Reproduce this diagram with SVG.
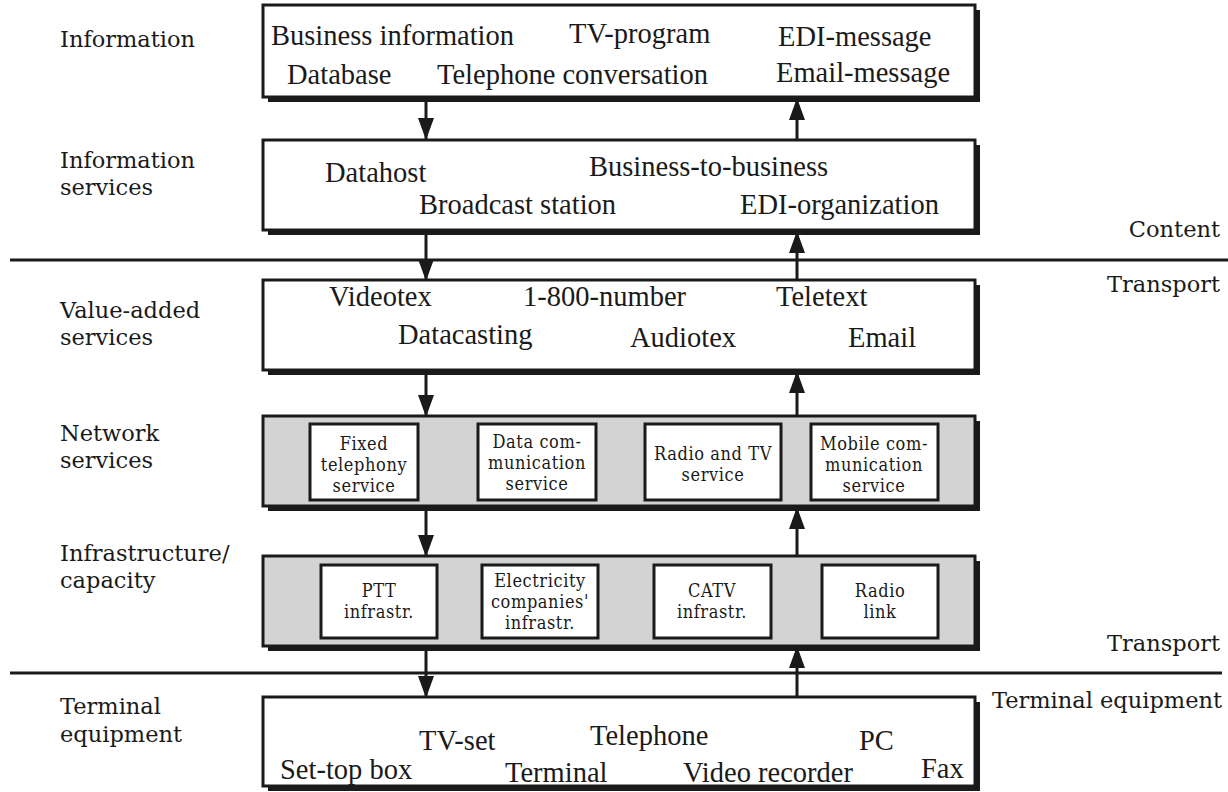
<svg xmlns="http://www.w3.org/2000/svg" width="1228" height="792" viewBox="0 0 1228 792">
  <defs>
    <marker id="head" viewBox="0 0 22 16" refX="21" refY="8" markerWidth="22" markerHeight="16" markerUnits="userSpaceOnUse" orient="auto">
      <path d="M0,0 L22,8 L0,16 z" fill="#1a1a1a"/>
    </marker>
  </defs>
  <style>
    .lbl { font-family: "DejaVu Serif", serif; font-size: 22.5px; fill: #1a1a1a; }
    .rlbl { font-family: "DejaVu Serif", serif; font-size: 22.5px; fill: #1a1a1a; text-anchor: end; }
    .item { font-family: "Liberation Serif", serif; font-size: 28.5px; fill: #1a1a1a; }
    .sub { font-family: "DejaVu Serif", serif; font-stretch: condensed; font-size: 18px; letter-spacing: 0.6px; fill: #1a1a1a; text-anchor: middle; }
    .shadow { fill: #1a1a1a; }
    .box { fill: #ffffff; stroke: #1a1a1a; stroke-width: 3; }
    .grey { fill: #d3d3d3; stroke: #1a1a1a; stroke-width: 3; }
    .inner { fill: #ffffff; stroke: #1a1a1a; stroke-width: 3; }
    .rule { stroke: #1a1a1a; stroke-width: 3; }
    .flow { stroke: #1a1a1a; stroke-width: 3; fill: none; }
  </style>

  <rect width="1228" height="792" fill="#ffffff"/>

  <!-- layer labels, left column -->
  <g id="layer-labels">
    <text class="lbl" x="60" y="47">Information</text>
    <text class="lbl" x="60" y="168">Information</text>
    <text class="lbl" x="60" y="195">services</text>
    <text class="lbl" x="60" y="318">Value-added</text>
    <text class="lbl" x="60" y="345">services</text>
    <text class="lbl" x="60" y="441">Network</text>
    <text class="lbl" x="60" y="468">services</text>
    <text class="lbl" x="60" y="561">Infrastructure/</text>
    <text class="lbl" x="60" y="588">capacity</text>
    <text class="lbl" x="60" y="714">Terminal</text>
    <text class="lbl" x="60" y="742">equipment</text>
  </g>

  <!-- divider lines and side labels -->
  <g id="dividers">
    <line class="rule" x1="10" y1="260" x2="1228" y2="260"/>
    <line class="rule" x1="10" y1="673" x2="1222" y2="673"/>
    <text class="rlbl" x="1220" y="237">Content</text>
    <text class="rlbl" x="1220" y="292">Transport</text>
    <text class="rlbl" x="1220" y="651">Transport</text>
    <text class="rlbl" x="1222" y="708">Terminal equipment</text>
  </g>

  <!-- connectors -->
  <g id="connectors">
    <line class="flow" x1="426" y1="99" x2="426" y2="139" marker-end="url(#head)"/>
    <line class="flow" x1="797" y1="139" x2="797" y2="99" marker-end="url(#head)"/>
    <line class="flow" x1="426" y1="232" x2="426" y2="280" marker-end="url(#head)"/>
    <line class="flow" x1="797" y1="280" x2="797" y2="232" marker-end="url(#head)"/>
    <line class="flow" x1="426" y1="372" x2="426" y2="416" marker-end="url(#head)"/>
    <line class="flow" x1="797" y1="416" x2="797" y2="372" marker-end="url(#head)"/>
    <line class="flow" x1="426" y1="508" x2="426" y2="556" marker-end="url(#head)"/>
    <line class="flow" x1="797" y1="556" x2="797" y2="508" marker-end="url(#head)"/>
    <line class="flow" x1="426" y1="647" x2="426" y2="697" marker-end="url(#head)"/>
    <line class="flow" x1="797" y1="697" x2="797" y2="647" marker-end="url(#head)"/>
  </g>

  <g id="information">
    <rect class="shadow" x="268" y="10" width="712" height="92"/>
    <rect class="box" x="263" y="5" width="712" height="92"/>
    <text class="item" x="271" y="45">Business information</text>
    <text class="item" x="569" y="43">TV-program</text>
    <text class="item" x="778" y="46">EDI-message</text>
    <text class="item" x="287" y="84">Database</text>
    <text class="item" x="437" y="84">Telephone conversation</text>
    <text class="item" x="776" y="82">Email-message</text>
  </g>

  <g id="information-services">
    <rect class="shadow" x="268" y="145" width="712" height="90"/>
    <rect class="box" x="263" y="140" width="712" height="90"/>
    <text class="item" x="325" y="182">Datahost</text>
    <text class="item" x="589" y="176">Business-to-business</text>
    <text class="item" x="419" y="214">Broadcast station</text>
    <text class="item" x="740" y="214">EDI-organization</text>
  </g>

  <g id="value-added-services">
    <rect class="shadow" x="268" y="285" width="712" height="90"/>
    <rect class="box" x="263" y="280" width="712" height="90"/>
    <text class="item" x="329" y="306">Videotex</text>
    <text class="item" x="523" y="306">1-800-number</text>
    <text class="item" x="776" y="306">Teletext</text>
    <text class="item" x="398" y="344">Datacasting</text>
    <text class="item" x="630" y="347">Audiotex</text>
    <text class="item" x="848" y="347">Email</text>
  </g>

  <g id="network-services">
    <rect class="shadow" x="268" y="421" width="712" height="90"/>
    <rect class="grey" x="263" y="416" width="712" height="90"/>
    <g id="fixed-telephony">
      <rect class="inner" x="310" y="424" width="108" height="76"/>
      <text class="sub" x="364" y="450">Fixed</text>
      <text class="sub" x="364" y="471">telephony</text>
      <text class="sub" x="364" y="492">service</text>
    </g>
    <g id="data-communication">
      <rect class="inner" x="478" y="424" width="118" height="76"/>
      <text class="sub" x="537" y="448">Data com-</text>
      <text class="sub" x="537" y="469">munication</text>
      <text class="sub" x="537" y="490">service</text>
    </g>
    <g id="radio-tv">
      <rect class="inner" x="645" y="424" width="136" height="76"/>
      <text class="sub" x="713" y="460">Radio and TV</text>
      <text class="sub" x="713" y="481">service</text>
    </g>
    <g id="mobile-communication">
      <rect class="inner" x="811" y="424" width="127" height="76"/>
      <text class="sub" x="874" y="450">Mobile com-</text>
      <text class="sub" x="874" y="471">munication</text>
      <text class="sub" x="874" y="492">service</text>
    </g>
  </g>

  <g id="infrastructure">
    <rect class="shadow" x="268" y="561" width="712" height="90"/>
    <rect class="grey" x="263" y="556" width="712" height="90"/>
    <g id="ptt">
      <rect class="inner" x="321" y="565" width="116" height="73"/>
      <text class="sub" x="379" y="597">PTT</text>
      <text class="sub" x="379" y="618">infrastr.</text>
    </g>
    <g id="electricity">
      <rect class="inner" x="482" y="565" width="116" height="73"/>
      <text class="sub" x="540" y="587">Electricity</text>
      <text class="sub" x="540" y="608">companies'</text>
      <text class="sub" x="540" y="629">infrastr.</text>
    </g>
    <g id="catv">
      <rect class="inner" x="654" y="565" width="117" height="73"/>
      <text class="sub" x="712" y="597">CATV</text>
      <text class="sub" x="712" y="618">infrastr.</text>
    </g>
    <g id="radio-link">
      <rect class="inner" x="822" y="565" width="116" height="73"/>
      <text class="sub" x="880" y="597">Radio</text>
      <text class="sub" x="880" y="618">link</text>
    </g>
  </g>

  <g id="terminal-equipment">
    <rect class="shadow" x="268" y="702" width="712" height="89"/>
    <rect class="box" x="263" y="697" width="712" height="89"/>
    <text class="item" x="419" y="750">TV-set</text>
    <text class="item" x="590" y="745">Telephone</text>
    <text class="item" x="859" y="750">PC</text>
    <text class="item" x="280" y="779">Set-top box</text>
    <text class="item" x="505" y="782">Terminal</text>
    <text class="item" x="683" y="782">Video recorder</text>
    <text class="item" x="921" y="778">Fax</text>
  </g>
</svg>
